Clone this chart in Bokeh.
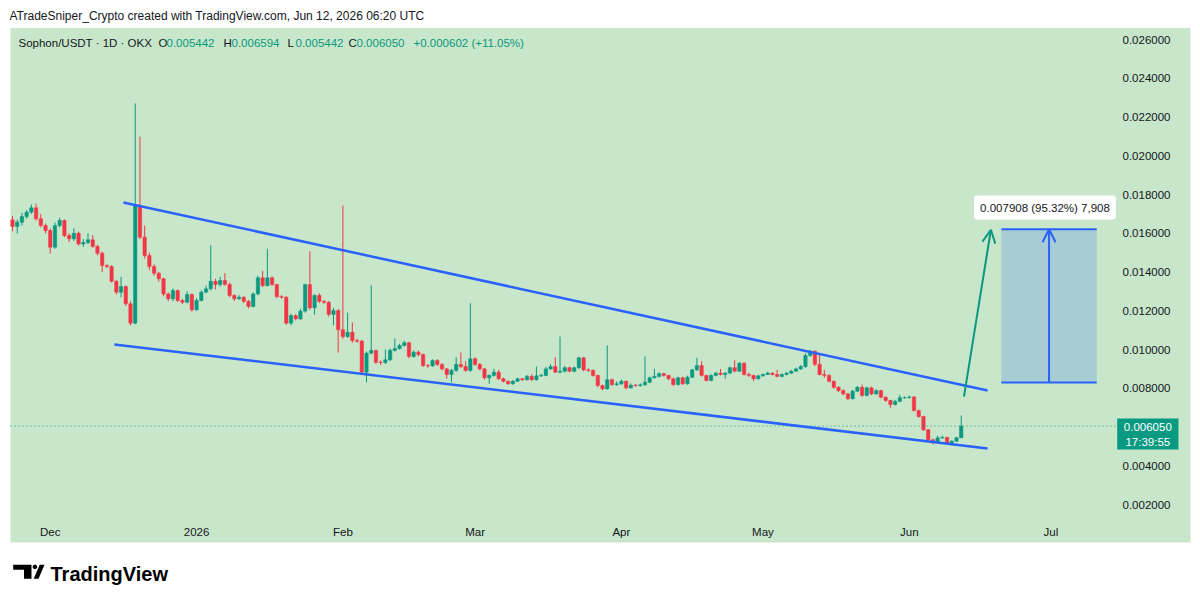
import pandas as pd
from bokeh.plotting import figure
from bokeh.models import (Range1d, FixedTicker, CustomJSTickFormatter, NumeralTickFormatter,
                          Label, Arrow, OpenHead, BoxAnnotation, PolyAnnotation)
from bokeh.embed import file_html
from bokeh.resources import INLINE

# ---------------- data ----------------
start_date = "2025-11-23"          # first daily candle
symbol_text = "Sophon/USDT \u00b7 1D \u00b7 OKX"
header_text = "ATradeSniper_Crypto created with TradingView.com, Jun 12, 2026 06:20 UTC"

opens = [0.01669, 0.01635, 0.01657, 0.01686, 0.01709, 0.01731, 0.01675, 0.01640, 0.01614, 0.01528,
         0.01640, 0.01666, 0.01588, 0.01571, 0.01600, 0.01545, 0.01552, 0.01566, 0.01532, 0.01497,
         0.01433, 0.01428, 0.01352, 0.01296, 0.01325, 0.01236, 0.01136, 0.01743, 0.01580, 0.01485,
         0.01428, 0.01394, 0.01365, 0.01287, 0.01262, 0.01304, 0.01253, 0.01244, 0.01284, 0.01205,
         0.01253, 0.01296, 0.01313, 0.01352, 0.01335, 0.01356, 0.01335, 0.01279, 0.01262, 0.01270,
         0.01249, 0.01222, 0.01287, 0.01370, 0.01330, 0.01370, 0.01335, 0.01273, 0.01270, 0.01136,
         0.01175, 0.01158, 0.01198, 0.01335, 0.01215, 0.01279, 0.01249, 0.01244, 0.01181, 0.01201,
         0.01102, 0.01067, 0.01089, 0.01046, 0.01043, 0.00883, 0.00981, 0.00995, 0.00934, 0.00933,
         0.00947, 0.00995, 0.01005, 0.01021, 0.01035, 0.00964, 0.00986, 0.00974, 0.00917, 0.00916,
         0.00943, 0.00923, 0.00900, 0.00871, 0.00892, 0.00923, 0.00912, 0.00892, 0.00952, 0.00923,
         0.00900, 0.00854, 0.00866, 0.00883, 0.00849, 0.00836, 0.00823, 0.00836, 0.00849, 0.00844,
         0.00861, 0.00844, 0.00864, 0.00866, 0.00900, 0.00912, 0.00883, 0.00888, 0.00906, 0.00888,
         0.00906, 0.00957, 0.00895, 0.00892, 0.00866, 0.00814, 0.00797, 0.00844, 0.00819, 0.00823,
         0.00836, 0.00802, 0.00816, 0.00814, 0.00818, 0.00831, 0.00854, 0.00861, 0.00875, 0.00866,
         0.00849, 0.00819, 0.00854, 0.00823, 0.00857, 0.00895, 0.00917, 0.00866, 0.00840, 0.00866,
         0.00878, 0.00871, 0.00878, 0.00906, 0.00888, 0.00929, 0.00871, 0.00866, 0.00849, 0.00864,
         0.00871, 0.00878, 0.00871, 0.00861, 0.00871, 0.00878, 0.00888, 0.00900, 0.00912, 0.00969,
         0.00991, 0.00923, 0.00871, 0.00866, 0.00836, 0.00805, 0.00788, 0.00771, 0.00746, 0.00785,
         0.00805, 0.00763, 0.00802, 0.00771, 0.00788, 0.00754, 0.00737, 0.00716, 0.00733, 0.00751,
         0.00752, 0.00755, 0.00685, 0.00654, 0.00586, 0.00534, 0.00522, 0.00544, 0.00546, 0.00513,
         0.00527, 0.005442]

highs = [0.01690, 0.01670, 0.01705, 0.01720, 0.01748, 0.01753, 0.01700, 0.01650, 0.01625, 0.01655,
         0.01680, 0.01672, 0.01600, 0.01625, 0.01608, 0.01570, 0.01600, 0.01590, 0.01540, 0.01505,
         0.01440, 0.01435, 0.01360, 0.01375, 0.01330, 0.01250, 0.02270, 0.02099, 0.01640, 0.01500,
         0.01440, 0.01400, 0.01370, 0.01295, 0.01315, 0.01310, 0.01262, 0.01300, 0.01290, 0.01265,
         0.01305, 0.01330, 0.01537, 0.01365, 0.01375, 0.01395, 0.01345, 0.01285, 0.01280, 0.01275,
         0.01255, 0.01295, 0.01380, 0.01406, 0.01520, 0.01378, 0.01340, 0.01280, 0.01275, 0.01185,
         0.01182, 0.01210, 0.01340, 0.01507, 0.01285, 0.01290, 0.01255, 0.01250, 0.01215, 0.01210,
         0.01743, 0.01190, 0.01140, 0.01055, 0.01050, 0.00990, 0.01330, 0.01000, 0.00945, 0.01000,
         0.01005, 0.01057, 0.01030, 0.01045, 0.01040, 0.00995, 0.00995, 0.00980, 0.00925, 0.00950,
         0.00950, 0.00930, 0.00905, 0.00900, 0.00960, 0.00985, 0.00940, 0.01239, 0.00960, 0.00930,
         0.00905, 0.00872, 0.00900, 0.00895, 0.00855, 0.00840, 0.00842, 0.00855, 0.00852, 0.00868,
         0.00872, 0.00912, 0.00875, 0.00910, 0.00925, 0.00960, 0.01067, 0.00915, 0.00912, 0.00912,
         0.00962, 0.00962, 0.00902, 0.00898, 0.00870, 0.00820, 0.01021, 0.00850, 0.00835, 0.00845,
         0.00840, 0.00825, 0.00822, 0.00825, 0.00964, 0.00860, 0.00900, 0.00882, 0.00880, 0.00870,
         0.00855, 0.00860, 0.00860, 0.00865, 0.00900, 0.00957, 0.00940, 0.00870, 0.00872, 0.00885,
         0.00900, 0.00884, 0.00912, 0.00945, 0.00935, 0.00935, 0.00880, 0.00870, 0.00870, 0.00876,
         0.00885, 0.00882, 0.00895, 0.00876, 0.00884, 0.00895, 0.00906, 0.00920, 0.00981, 0.00998,
         0.00995, 0.00978, 0.00895, 0.00872, 0.00840, 0.00810, 0.00795, 0.00776, 0.00792, 0.00812,
         0.00819, 0.00808, 0.00808, 0.00795, 0.00792, 0.00758, 0.00740, 0.00740, 0.00766, 0.00758,
         0.00762, 0.00760, 0.00690, 0.00658, 0.00590, 0.00540, 0.00555, 0.00555, 0.00550, 0.00532,
         0.00550, 0.006594]

lows = [0.01610, 0.01599, 0.01640, 0.01675, 0.01700, 0.01665, 0.01630, 0.01600, 0.01495, 0.01520,
        0.01630, 0.01580, 0.01555, 0.01560, 0.01535, 0.01530, 0.01545, 0.01525, 0.01485, 0.01399,
        0.01420, 0.01345, 0.01285, 0.01270, 0.01225, 0.01124, 0.01130, 0.01570, 0.01470, 0.01410,
        0.01380, 0.01350, 0.01275, 0.01250, 0.01250, 0.01245, 0.01235, 0.01238, 0.01195, 0.01200,
        0.01248, 0.01290, 0.01305, 0.01310, 0.01325, 0.01330, 0.01270, 0.01250, 0.01255, 0.01240,
        0.01212, 0.01218, 0.01280, 0.01322, 0.01325, 0.01328, 0.01265, 0.01262, 0.01128, 0.01125,
        0.01150, 0.01152, 0.01190, 0.01205, 0.01180, 0.01240, 0.01235, 0.01170, 0.01125, 0.00984,
        0.01055, 0.01060, 0.01035, 0.01035, 0.00875, 0.00830, 0.00975, 0.00925, 0.00920, 0.00925,
        0.00940, 0.00990, 0.01000, 0.01015, 0.00955, 0.00958, 0.00965, 0.00910, 0.00905, 0.00910,
        0.00915, 0.00892, 0.00849, 0.00831, 0.00885, 0.00905, 0.00885, 0.00885, 0.00915, 0.00892,
        0.00845, 0.00823, 0.00860, 0.00842, 0.00830, 0.00818, 0.00818, 0.00832, 0.00838, 0.00840,
        0.00838, 0.00840, 0.00858, 0.00862, 0.00895, 0.00878, 0.00878, 0.00882, 0.00882, 0.00882,
        0.00900, 0.00888, 0.00885, 0.00860, 0.00805, 0.00790, 0.00792, 0.00812, 0.00812, 0.00818,
        0.00795, 0.00798, 0.00808, 0.00808, 0.00812, 0.00826, 0.00850, 0.00856, 0.00860, 0.00842,
        0.00812, 0.00814, 0.00818, 0.00818, 0.00852, 0.00890, 0.00860, 0.00835, 0.00835, 0.00862,
        0.00866, 0.00850, 0.00874, 0.00882, 0.00884, 0.00866, 0.00858, 0.00837, 0.00845, 0.00860,
        0.00868, 0.00866, 0.00856, 0.00856, 0.00866, 0.00874, 0.00884, 0.00895, 0.00905, 0.00962,
        0.00915, 0.00865, 0.00853, 0.00830, 0.00798, 0.00780, 0.00764, 0.00738, 0.00742, 0.00780,
        0.00756, 0.00758, 0.00765, 0.00766, 0.00748, 0.00730, 0.00699, 0.00712, 0.00728, 0.00745,
        0.00746, 0.00680, 0.00648, 0.00580, 0.00528, 0.00510, 0.00518, 0.00538, 0.00508, 0.00508,
        0.00522, 0.005442]

closes = [0.01635, 0.01657, 0.01686, 0.01709, 0.01731, 0.01675, 0.01640, 0.01614, 0.01528, 0.01640,
          0.01666, 0.01588, 0.01571, 0.01600, 0.01545, 0.01552, 0.01566, 0.01532, 0.01497, 0.01433,
          0.01428, 0.01352, 0.01296, 0.01325, 0.01236, 0.01136, 0.01743, 0.01580, 0.01485, 0.01428,
          0.01394, 0.01365, 0.01287, 0.01262, 0.01304, 0.01253, 0.01244, 0.01284, 0.01205, 0.01253,
          0.01296, 0.01313, 0.01352, 0.01335, 0.01356, 0.01335, 0.01279, 0.01262, 0.01270, 0.01249,
          0.01222, 0.01287, 0.01370, 0.01330, 0.01370, 0.01335, 0.01273, 0.01270, 0.01136, 0.01175,
          0.01158, 0.01198, 0.01335, 0.01215, 0.01279, 0.01249, 0.01244, 0.01181, 0.01201, 0.01102,
          0.01067, 0.01089, 0.01046, 0.01043, 0.00883, 0.00981, 0.00995, 0.00934, 0.00933, 0.00947,
          0.00995, 0.01005, 0.01021, 0.01035, 0.00964, 0.00986, 0.00974, 0.00917, 0.00916, 0.00943,
          0.00923, 0.00900, 0.00871, 0.00892, 0.00923, 0.00912, 0.00892, 0.00952, 0.00923, 0.00900,
          0.00854, 0.00866, 0.00883, 0.00849, 0.00836, 0.00823, 0.00836, 0.00849, 0.00844, 0.00861,
          0.00844, 0.00864, 0.00866, 0.00900, 0.00912, 0.00883, 0.00888, 0.00906, 0.00888, 0.00906,
          0.00957, 0.00895, 0.00892, 0.00866, 0.00814, 0.00797, 0.00844, 0.00819, 0.00823, 0.00836,
          0.00802, 0.00816, 0.00814, 0.00818, 0.00831, 0.00854, 0.00861, 0.00875, 0.00866, 0.00849,
          0.00819, 0.00854, 0.00823, 0.00857, 0.00895, 0.00917, 0.00866, 0.00840, 0.00866, 0.00878,
          0.00871, 0.00878, 0.00906, 0.00888, 0.00929, 0.00871, 0.00866, 0.00849, 0.00864, 0.00871,
          0.00878, 0.00871, 0.00861, 0.00871, 0.00878, 0.00888, 0.00900, 0.00912, 0.00969, 0.00991,
          0.00923, 0.00871, 0.00866, 0.00836, 0.00805, 0.00788, 0.00771, 0.00746, 0.00785, 0.00805,
          0.00763, 0.00802, 0.00771, 0.00788, 0.00754, 0.00737, 0.00716, 0.00733, 0.00751, 0.00752,
          0.00755, 0.00685, 0.00654, 0.00586, 0.00534, 0.00522, 0.00544, 0.00546, 0.00513, 0.00527,
          0.005442, 0.006050]

# drawings (date, price)
upper_line_dates = ["2025-12-16 12:00", "2026-06-17 14:00"]
upper_line_prices = [0.01759, 0.00788]
lower_line_dates = ["2025-12-14 14:00", "2026-06-17 14:00"]
lower_line_prices = [0.01026, 0.00489]
proj_arrow_dates = ["2026-06-12 14:00", "2026-06-18 07:00"]
proj_arrow_prices = [0.00757, 0.01618]
range_dates = ["2026-06-20 12:00", "2026-07-10 17:00"]
range_prices = [0.008297, 0.016205]
range_text = "0.007908 (95.32%) 7,908"
last_price = 0.006050
countdown_text = "17:39:55"
legend_values = ["0.005442", "0.006594", "0.005442", "0.006050"]
legend_change = "+0.000602 (+11.05%)"

y_ticks = [0.002, 0.004, 0.008, 0.010, 0.012, 0.014, 0.016, 0.018, 0.020, 0.022, 0.024, 0.026]
x_tick_dates = ["2025-12-01", "2026-01-01", "2026-02-01", "2026-03-01", "2026-04-01",
                "2026-05-01", "2026-06-01", "2026-07-01"]

# ---------------- helpers ----------------
DAY = 86400000.0
def ms(t):
    return pd.Timestamp(t).value / 1e6

dates = pd.date_range(start_date, periods=len(closes), freq="D")
x_ms = [ms(d) for d in dates]
BASE = x_ms[0]

# page layout (pixels) -> data mapping, used for placing texts and frame edges
X0_PX, PX_DAY = 12.0, 4.72
def px2x(sx):
    return BASE + (sx - X0_PX) / PX_DAY * DAY
def py2y(sy):
    return 0.002 + (504.0 - sy) / 19375.0

W, H = 1192, 594
UP, DOWN = "#089981", "#f23645"
BLUE = "#2962ff"
BG = "#c8e6c9"
TXT = "#131722"
FONT = "Liberation Sans"

p = figure(width=W, height=H, x_axis_type="datetime", y_axis_location="right",
           output_backend="svg", toolbar_location=None,
           x_range=Range1d(px2x(0), px2x(W)), y_range=Range1d(py2y(H), py2y(0)),
           min_border_left=0, min_border_right=0, min_border_top=0, min_border_bottom=0)
p.title.visible = False
p.background_fill_color = "white"
p.border_fill_color = "white"
p.outline_line_color = None
p.grid.visible = False

# chart pane background (pane + price scale + time scale)
p.add_layout(BoxAnnotation(left=px2x(10), right=px2x(1190), top=py2y(27.5), bottom=py2y(542),
                           fill_color=BG, fill_alpha=1.0, line_color=None, level="underlay"))

# axes, placed at the pane edges
ya = p.yaxis[0]
ya.ticker = FixedTicker(ticks=y_ticks)
ya.formatter = NumeralTickFormatter(format="0.000000")
ya.fixed_location = px2x(1108)
xa = p.xaxis[0]
xa.ticker = FixedTicker(ticks=[ms(d) for d in x_tick_dates])
xa.formatter = CustomJSTickFormatter(code="""
const d = new Date(tick);
const names = ['Jan','Feb','Mar','Apr','May','Jun','Jul','Aug','Sep','Oct','Nov','Dec'];
const m = d.getUTCMonth();
return m == 0 ? String(d.getUTCFullYear()) : names[m];
""")
xa.fixed_location = py2y(518)
for ax in (ya, xa):
    ax.axis_line_color = None
    ax.major_tick_line_color = None
    ax.minor_tick_line_color = None
    ax.major_tick_out = 0
    ax.major_tick_in = 0
    ax.minor_tick_out = 0
    ax.major_label_text_font = FONT
    ax.major_label_text_font_size = "11.5px"
    ax.major_label_text_color = TXT
ya.major_label_standoff = 14
xa.major_label_standoff = 7

# candles
colors = [UP if c >= o else DOWN for o, c in zip(opens, closes)]
tops = [max(o, c) for o, c in zip(opens, closes)]
bottoms = [min(o, c) for o, c in zip(opens, closes)]
p.segment(x0=x_ms, y0=highs, x1=x_ms, y1=lows, line_color=colors, line_width=1)
p.vbar(x=x_ms, width=0.72 * DAY, top=tops, bottom=bottoms, fill_color=colors, line_color=colors,
       line_width=0.5)

# current price dotted line (across the pane up to the price tag)
p.segment(x0=[px2x(10)], y0=[last_price], x1=[px2x(1116)], y1=[last_price],
          line_color=UP, line_width=1, line_dash="1 3")

# falling wedge
p.line(x=[ms(d) for d in upper_line_dates], y=upper_line_prices, line_color=BLUE, line_width=2.5)
p.line(x=[ms(d) for d in lower_line_dates], y=lower_line_prices, line_color=BLUE, line_width=2.5)

# projected move arrow
p.add_layout(Arrow(end=OpenHead(size=13, line_color=UP, line_width=2),
                   x_start=ms(proj_arrow_dates[0]), y_start=proj_arrow_prices[0],
                   x_end=ms(proj_arrow_dates[1]), y_end=proj_arrow_prices[1],
                   line_color=UP, line_width=2))

# price range box
rl, rr = ms(range_dates[0]), ms(range_dates[1])
p.quad(left=[rl], right=[rr], bottom=[range_prices[0]], top=[range_prices[1]],
       fill_color=BLUE, fill_alpha=0.2, line_color=None)
p.segment(x0=[rl, rl], y0=[range_prices[0], range_prices[1]], x1=[rr, rr],
          y1=[range_prices[0], range_prices[1]], line_color=BLUE, line_width=2)
rmid = (rl + rr) / 2
p.add_layout(Arrow(end=OpenHead(size=13, line_color=BLUE, line_width=2),
                   x_start=rmid, y_start=range_prices[0], x_end=rmid, y_end=range_prices[1],
                   line_color=BLUE, line_width=2))
p.add_layout(Label(x=px2x(1044.5), y=py2y(207), text=range_text, text_align="center",
                   text_baseline="middle", text_font=FONT, text_font_size="11.5px",
                   text_color=TXT, background_fill_color="white", background_fill_alpha=1.0,
                   padding=6, border_radius=3))

# last price tag on the price scale
p.add_layout(BoxAnnotation(left=px2x(1116.7), right=px2x(1178), top=py2y(418), bottom=py2y(449),
                           fill_color=UP, fill_alpha=1.0, line_color=None))
p.add_layout(Label(x=px2x(1147.3), y=py2y(426), text=f"{last_price:.6f}", text_align="center",
                   text_baseline="middle", text_font=FONT, text_font_size="11.5px",
                   text_color="white"))
p.add_layout(Label(x=px2x(1147.3), y=py2y(441), text=countdown_text, text_align="center",
                   text_baseline="middle", text_font=FONT, text_font_size="11.5px",
                   text_color="white"))

# header texts
def lab(sx, sy, text, color, size="11.5px", **kw):
    p.add_layout(Label(x=px2x(sx), y=py2y(sy), text=text, text_align="left",
                       text_baseline="middle", text_font=FONT, text_font_size=size,
                       text_color=color, **kw))

lab(9, 15, header_text, TXT, "12px")
lab(18, 42.5, symbol_text, TXT)
xs_letters = [158, 223, 287, 348]
for letter, sx, val in zip("OHLC", xs_letters, legend_values):
    lab(sx, 42.5, letter, TXT)
    lab(sx + 8, 42.5, val, UP)
lab(413, 42.5, legend_change, UP)

# footer logo
lab(50, 573, "TradingView", "#000000", "20px", text_font_style="bold")
logo_T_x = [12.7, 31.0, 31.0, 23.5, 23.5, 12.7]
logo_T_y = [564.3, 564.3, 578.3, 578.3, 569.3, 569.3]
p.add_layout(PolyAnnotation(xs=[px2x(v) for v in logo_T_x], ys=[py2y(v) for v in logo_T_y],
                            fill_color="#000000", fill_alpha=1.0, line_color=None))
logo_S_x = [39.2, 44.0, 38.0, 33.2]
logo_S_y = [564.3, 564.3, 578.3, 578.3]
p.add_layout(PolyAnnotation(xs=[px2x(v) for v in logo_S_x], ys=[py2y(v) for v in logo_S_y],
                            fill_color="#000000", fill_alpha=1.0, line_color=None))
dot_x = [33.5, 35.3, 36.6, 36.6, 35.3, 33.5, 32.2, 32.2]
dot_y = [564.2, 564.2, 565.5, 567.3, 568.6, 568.6, 567.3, 565.5]
p.add_layout(PolyAnnotation(xs=[px2x(v) for v in dot_x], ys=[py2y(v) for v in dot_y],
                            fill_color="#000000", fill_alpha=1.0, line_color=None))

open("out.html", "w").write(file_html(p, INLINE))
